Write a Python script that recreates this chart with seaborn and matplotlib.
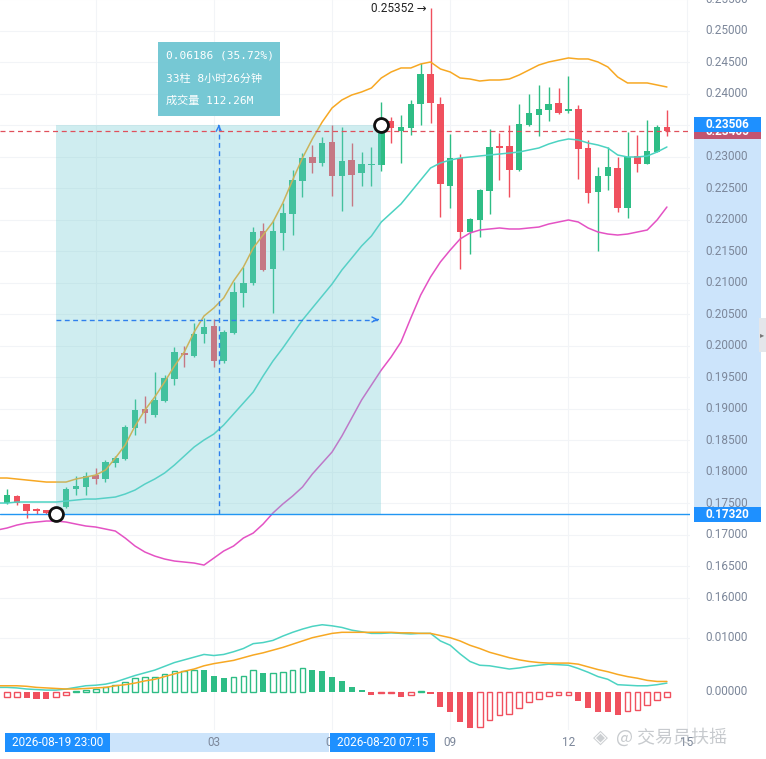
import numpy as np
import pandas as pd
import matplotlib
matplotlib.use("Agg")
import matplotlib.pyplot as plt
import matplotlib.transforms as mtransforms
from matplotlib.patches import Rectangle
import seaborn as sns

# 15 minute candles, 2026-08-19 21:30 .. 2026-08-20 14:30
times = pd.date_range("2026-08-19 21:30", periods=69, freq="15min")

opens = [0.17293, 0.17499, 0.17611, 0.17483, 0.17404, 0.17388, 0.17340, 0.17436, 0.17722, 0.17754,
         0.17944, 0.17880, 0.18134, 0.18198, 0.18690, 0.18991, 0.18896, 0.19119, 0.19468, 0.19881,
         0.19833, 0.20182, 0.20309, 0.19753, 0.20198, 0.20834, 0.20992, 0.21817, 0.21215, 0.21786,
         0.22088, 0.22611, 0.22992, 0.22897, 0.23231, 0.22691, 0.22944, 0.22739, 0.22866, 0.22866,
         0.23564, 0.23405, 0.23453, 0.23834, 0.24310, 0.23834, 0.22532, 0.22976, 0.21802, 0.21993,
         0.22453, 0.23167, 0.23167, 0.22786, 0.23501, 0.23660, 0.23739, 0.23850, 0.23723, 0.23755,
         0.23135, 0.22437, 0.22691, 0.22818, 0.22183, 0.23008, 0.22882, 0.23072, 0.23469]
highs = [0.17547, 0.17722, 0.17627, 0.17490, 0.17420, 0.17395, 0.17395, 0.17754, 0.17928, 0.17992,
         0.18055, 0.18182, 0.18245, 0.18738, 0.19151, 0.19198, 0.19579, 0.19532, 0.19976, 0.19992,
         0.20357, 0.20437, 0.20421, 0.20246, 0.21008, 0.21245, 0.21881, 0.21945, 0.21993, 0.22262,
         0.22786, 0.23056, 0.23183, 0.23310, 0.23501, 0.23469, 0.23215, 0.23072, 0.23151, 0.23866,
         0.23628, 0.23660, 0.23898, 0.24485, 0.25352, 0.23945, 0.23357, 0.23040, 0.22024, 0.22485,
         0.23437, 0.23373, 0.23501, 0.23834, 0.23993, 0.24136, 0.24104, 0.24088, 0.24279, 0.23818,
         0.23262, 0.22834, 0.23151, 0.22992, 0.23389, 0.23341, 0.23580, 0.23501, 0.23739]
lows = [0.17262, 0.17483, 0.17467, 0.17262, 0.17330, 0.17325, 0.17320, 0.17420, 0.17627, 0.17627,
        0.17801, 0.17833, 0.18070, 0.18182, 0.18579, 0.18770, 0.18865, 0.19110, 0.19372, 0.19659,
        0.19825, 0.20040, 0.19659, 0.19722, 0.20190, 0.20611, 0.20960, 0.21183, 0.20516, 0.21516,
        0.21754, 0.22358, 0.22739, 0.22850, 0.22374, 0.22135, 0.22214, 0.22532, 0.22532, 0.22770,
        0.23215, 0.22897, 0.23341, 0.23501, 0.23532, 0.22040, 0.22183, 0.21215, 0.21452, 0.21722,
        0.22088, 0.22627, 0.22358, 0.22770, 0.23485, 0.23325, 0.23564, 0.23676, 0.23692, 0.22643,
        0.22262, 0.21500, 0.22469, 0.22119, 0.22024, 0.22754, 0.22882, 0.23070, 0.23325]
closes = [0.17515, 0.17627, 0.17499, 0.17372, 0.17372, 0.17335, 0.17372, 0.17722, 0.17770, 0.17928,
          0.17880, 0.18150, 0.18214, 0.18706, 0.18975, 0.18928, 0.19135, 0.19484, 0.19897, 0.19849,
          0.20182, 0.20294, 0.19753, 0.20214, 0.20850, 0.20992, 0.21802, 0.21199, 0.21817, 0.22104,
          0.22627, 0.22976, 0.22897, 0.23215, 0.22691, 0.22929, 0.22707, 0.22882, 0.22882, 0.23506,
          0.23453, 0.23469, 0.23834, 0.24310, 0.23850, 0.22564, 0.22976, 0.21802, 0.22008, 0.22469,
          0.23151, 0.23135, 0.22786, 0.23516, 0.23692, 0.23755, 0.23834, 0.23692, 0.23755, 0.23120,
          0.22421, 0.22691, 0.22834, 0.22183, 0.22992, 0.22882, 0.23088, 0.23469, 0.23405]

# Bollinger bands
bb_upper = [0.17897, 0.17897, 0.17881, 0.17865, 0.17849, 0.17833, 0.17833, 0.17833, 0.17881, 0.17912,
            0.17944, 0.18024, 0.18214, 0.18421, 0.18722, 0.18976, 0.19183, 0.19421, 0.19675, 0.19897,
            0.20214, 0.20469, 0.20596, 0.20754, 0.21024, 0.21246, 0.21548, 0.21754, 0.21961, 0.22262,
            0.22628, 0.22977, 0.23279, 0.23548, 0.23771, 0.23898, 0.23977, 0.24025, 0.24088, 0.24247,
            0.24342, 0.24406, 0.24406, 0.24469, 0.24501, 0.24390, 0.24342, 0.24247, 0.24231, 0.24199,
            0.24215, 0.24215, 0.24231, 0.24295, 0.24374, 0.24453, 0.24501, 0.24533, 0.24565, 0.24549,
            0.24549, 0.24501, 0.24422, 0.24263, 0.24168, 0.24168, 0.24168, 0.24136, 0.24104]
bb_middle = [0.17500, 0.17500, 0.17516, 0.17516, 0.17516, 0.17516, 0.17516, 0.17531, 0.17547, 0.17563,
             0.17563, 0.17579, 0.17595, 0.17643, 0.17706, 0.17801, 0.17881, 0.17976, 0.18103, 0.18246,
             0.18389, 0.18500, 0.18595, 0.18738, 0.18913, 0.19087, 0.19262, 0.19516, 0.19754, 0.19960,
             0.20183, 0.20405, 0.20596, 0.20786, 0.20976, 0.21199, 0.21389, 0.21580, 0.21739, 0.21961,
             0.22104, 0.22247, 0.22437, 0.22628, 0.22818, 0.22898, 0.22945, 0.22977, 0.22993, 0.23009,
             0.23025, 0.23040, 0.23056, 0.23072, 0.23104, 0.23136, 0.23199, 0.23247, 0.23279, 0.23263,
             0.23215, 0.23183, 0.23136, 0.23025, 0.22993, 0.22993, 0.23009, 0.23072, 0.23152]
bb_lower = [0.17071, 0.17103, 0.17150, 0.17182, 0.17198, 0.17214, 0.17214, 0.17198, 0.17166, 0.17135,
            0.17119, 0.17087, 0.17055, 0.16944, 0.16817, 0.16722, 0.16658, 0.16611, 0.16579, 0.16563,
            0.16547, 0.16515, 0.16626, 0.16738, 0.16817, 0.16944, 0.17023, 0.17166, 0.17341, 0.17484,
            0.17611, 0.17754, 0.17960, 0.18135, 0.18309, 0.18563, 0.18849, 0.19135, 0.19373, 0.19611,
            0.19818, 0.20056, 0.20437, 0.20802, 0.21088, 0.21326, 0.21516, 0.21691, 0.21786, 0.21834,
            0.21850, 0.21866, 0.21850, 0.21850, 0.21866, 0.21881, 0.21929, 0.21961, 0.21993, 0.21961,
            0.21866, 0.21802, 0.21770, 0.21754, 0.21770, 0.21802, 0.21834, 0.21993, 0.22199]

# MACD
dif = [0.0008, 0.0008, 0.0007, 0.0005, 0.0004, 0.0003, 0.0003, 0.0005, 0.0008, 0.0011,
       0.0012, 0.0014, 0.0018, 0.0024, 0.0030, 0.0035, 0.0040, 0.0047, 0.0054, 0.0059,
       0.0064, 0.0069, 0.0067, 0.0069, 0.0074, 0.0080, 0.0089, 0.0091, 0.0095, 0.0103,
       0.0110, 0.0116, 0.0121, 0.0124, 0.0122, 0.0119, 0.0114, 0.0111, 0.0108, 0.0108,
       0.0109, 0.0108, 0.0107, 0.0108, 0.0108, 0.0094, 0.0086, 0.0070, 0.0056, 0.0049,
       0.0048, 0.0045, 0.0042, 0.0044, 0.0047, 0.0049, 0.0051, 0.0050, 0.0049, 0.0043,
       0.0036, 0.0028, 0.0023, 0.0013, 0.0012, 0.0011, 0.0011, 0.0013, 0.0016]
dea = [0.0011, 0.0011, 0.0011, 0.0010, 0.0008, 0.0007, 0.0006, 0.0005, 0.0005, 0.0006,
       0.0007, 0.0008, 0.0011, 0.0013, 0.0016, 0.0020, 0.0023, 0.0028, 0.0033, 0.0038,
       0.0042, 0.0048, 0.0052, 0.0055, 0.0058, 0.0063, 0.0068, 0.0072, 0.0077, 0.0082,
       0.0088, 0.0094, 0.0100, 0.0104, 0.0108, 0.0110, 0.0110, 0.0110, 0.0110, 0.0110,
       0.0110, 0.0109, 0.0109, 0.0108, 0.0108, 0.0104, 0.0100, 0.0094, 0.0086, 0.0080,
       0.0073, 0.0068, 0.0063, 0.0059, 0.0056, 0.0054, 0.0053, 0.0053, 0.0053, 0.0051,
       0.0046, 0.0041, 0.0037, 0.0032, 0.0028, 0.0025, 0.0021, 0.0019, 0.0019]
macd_hist = [-0.00125, -0.00106, -0.00106, -0.00125, -0.00138, -0.00140, -0.00106, -0.00069, 0.0002, 0.0004,
             0.0005, 0.0009, 0.00124, 0.0018, 0.0025, 0.0027, 0.0028, 0.0032, 0.0038, 0.0038,
             0.0040, 0.00398, 0.0029, 0.0025, 0.0028, 0.0030, 0.0040, 0.0035, 0.00352, 0.0036,
             0.0040, 0.0043, 0.0040, 0.0038, 0.0027, 0.0020, 0.0009, 0.0003, -0.0007, -0.0003,
             -0.0003, -0.0009, -0.0007, 0.0002, -0.0004, -0.0028, -0.0037, -0.0057, -0.0067, -0.0065,
             -0.0052, -0.0044, -0.0042, -0.0031, -0.0019, -0.0014, -0.0008, -0.0007, -0.0007, -0.0017,
             -0.0031, -0.0037, -0.00372, -0.0044, -0.0036, -0.0033, -0.0025, -0.0015, -0.0010]

price_ticks = np.arange(0.160, 0.2551, 0.005)
hour_ticks = pd.date_range("2026-08-20 00:00", "2026-08-20 15:00", freq="3h")
start_time = pd.Timestamp("2026-08-19 23:00")
end_time = pd.Timestamp("2026-08-20 07:15")
info_lines = ["0.06186 (35.72%)", "33柱 8小时26分钟", "成交量 112.26M"]

GREEN = "#2ebd85"
RED = "#f0505e"
C_UP = "#f7a823"
C_MID = "#4cd3c2"
C_LOW = "#e452c4"
BLUE = "#1e90ff"
AXC = "#7c879a"
GRID = "#f2f4f7"

sns.set_style("white")
plt.rcParams["font.family"] = ["Roboto", "DejaVu Sans"]

W, H = 766, 759
fig = plt.figure(figsize=(W / 100, H / 100), dpi=100)


def fx(px):
    return px / W


def fy(py):
    return 1 - py / H


ax = fig.add_axes([0, fy(612), fx(690), 612 / H])
axm = fig.add_axes([0, fy(730), fx(690), (730 - 612) / H])
for a in (ax, axm):
    a.set_xlim(0.2893, 70.343)
    for s in a.spines.values():
        s.set_visible(False)
    a.set_xticks([])
    a.set_yticks([])
ax.set_ylim(0.15770, 0.25485)
axm.set_ylim(-0.00709, 0.01476)

o = np.array(opens); h = np.array(highs); l = np.array(lows); c = np.array(closes)
k = np.arange(len(times))
t2k = lambda t: (t - times[0]) / pd.Timedelta("15min")
k_hours = np.array([t2k(t) for t in hour_ticks])
k0, k1 = t2k(start_time), t2k(end_time)
p0, p1 = l[int(k0)], c[int(k1)]

# grid
for p in price_ticks:
    ax.axhline(p, color=GRID, lw=0.8, zorder=0)
for kk in k_hours:
    ax.axvline(kk, color=GRID, lw=0.8, zorder=0)
    axm.axvline(kk, color=GRID, lw=0.8, zorder=0)
axm.axhline(0.01, color=GRID, lw=0.8, zorder=0)

# candles
up = c >= o
cols = np.where(up, GREEN, RED)
ax.vlines(k, l, h, colors=cols, lw=1, zorder=2)
ax.bar(k, np.maximum(np.abs(c - o), 0.00015), bottom=np.minimum(o, c), width=0.66,
       color=cols, linewidth=0, zorder=3)

# Bollinger bands
df = pd.DataFrame({"k": k, "up": bb_upper, "mid": bb_middle, "low": bb_lower,
                   "dif": dif, "dea": dea, "hist": macd_hist})
sns.lineplot(data=df, x="k", y="up", ax=ax, color=C_UP, lw=1.1, zorder=4)
sns.lineplot(data=df, x="k", y="mid", ax=ax, color=C_MID, lw=1.1, zorder=4)
sns.lineplot(data=df, x="k", y="low", ax=ax, color=C_LOW, lw=1.1, zorder=4)

# measurement overlay
ax.add_patch(Rectangle((k0, p0), k1 - k0, p1 - p0, facecolor="#70cbd2", alpha=0.33,
                       linewidth=0, zorder=5))
km, pm = (k0 + k1) / 2, (p0 + p1) / 2
ax.plot([km, km], [p0, p1], color="#2f80ed", lw=1, ls=(0, (3.5, 2.5)), zorder=6)
ax.plot([k0, k1], [pm, pm], color="#2f80ed", lw=1, ls=(0, (3.5, 2.5)), zorder=6)
ax.annotate("", xy=(km, p1), xytext=(km, p1 - 0.0006),
            arrowprops=dict(arrowstyle="->", color="#2f80ed", lw=1, mutation_scale=9), zorder=6)
ax.annotate("", xy=(k1, pm), xytext=(k1 - 0.6, pm),
            arrowprops=dict(arrowstyle="->", color="#2f80ed", lw=1, mutation_scale=9), zorder=6)

ax.axhline(p0, color="#2196f3", lw=1, zorder=6)
ax.axhline(c[-1], color="#e0505c", lw=0.9, ls=(0, (4, 3)), zorder=6)
ax.scatter([k0, k1], [p0, p1], s=100, facecolors="white", edgecolors="#111111",
           linewidths=2, zorder=8)

ih = int(np.argmax(h))
ax.annotate(f"{h[ih]:.5f} →", xy=(ih, h[ih]), xytext=(-2.5, 0), textcoords="offset points",
            ha="right", va="center", fontsize=8.5, color="#222222", zorder=9)

# info box
fig.patches.append(Rectangle((fx(158), fy(116)), fx(122), 74 / H, transform=fig.transFigure,
                             facecolor="#76c8d4", edgecolor="none", zorder=10))
for j, line in enumerate(info_lines):
    fig.text(fx(166), fy(56 + 22.5 * j), line, color="white", fontsize=8, va="center",
             family=["DejaVu Sans Mono", "Noto Sans CJK SC"], zorder=11)

# right price axis
ytr = ax.get_yaxis_transform()
ax.add_patch(Rectangle((694 / 690, p0), 67 / 690, p1 - p0, transform=ytr, facecolor="#cce4fb",
                       linewidth=0, clip_on=False, zorder=1))
for p in price_ticks:
    ax.text(727 / 690, p, f"{p:.5f}", transform=ytr, ha="center", va="center",
            fontsize=8.5, color=AXC, clip_on=False, zorder=2)
hbox = 15 / 6299
for z, (p, fc) in enumerate([(c[-1], "#c25470"), (p1, BLUE), (p0, BLUE)]):
    ax.add_patch(Rectangle((694 / 690, p - hbox / 2), 67 / 690, hbox, transform=ytr,
                           facecolor=fc, linewidth=0, clip_on=False, zorder=10 + 2 * z))
    ax.text(727 / 690, p, f"{p:.5f}", transform=ytr, ha="center", va="center",
            fontsize=8.5, color="white", fontweight="bold", clip_on=False, zorder=11 + 2 * z)

# MACD panel
sns.lineplot(data=df, x="k", y="dif", ax=axm, color=C_MID, lw=1.1, zorder=4)
sns.lineplot(data=df, x="k", y="dea", ax=axm, color=C_UP, lw=1.1, zorder=4)
hv = np.array(macd_hist)
prev = np.r_[np.inf, hv[:-1]]
filled = hv < prev
hcols = np.where(hv >= 0, GREEN, RED)
axm.bar(k[filled], hv[filled], width=0.62, color=hcols[filled], linewidth=0, zorder=3)
axm.bar(k[~filled], hv[~filled], width=0.58, facecolor="white", edgecolor=hcols[~filled],
        linewidth=1, zorder=3)
mtr = axm.get_yaxis_transform()
for v in (0.0, 0.01):
    axm.text(727 / 690, v, f"{v:.5f}", transform=mtr, ha="center", va="center",
             fontsize=8.5, color=AXC, clip_on=False)

# time axis strip
btr = mtransforms.blended_transform_factory(axm.transData, fig.transFigure)
bw = 105 / 9.85
axm.add_patch(Rectangle((k0 + bw / 2, fy(752)), (k1 - k0) - bw, 19 / H, transform=btr,
                        facecolor="#cce4fb", linewidth=0, clip_on=False, zorder=1))
for kk, t in zip(k_hours, hour_ticks):
    axm.text(kk, fy(743), t.strftime("%H"), transform=btr, ha="center", va="center",
             fontsize=8.5, color=AXC, clip_on=False, zorder=2)
for kk, t in [(k0, start_time), (k1, end_time)]:
    axm.add_patch(Rectangle((kk - bw / 2 + 0.1, fy(752)), bw, 19 / H, transform=btr,
                            facecolor=BLUE, linewidth=0, clip_on=False, zorder=10))
    axm.text(kk + 0.1, fy(742.5), t.strftime("%Y-%m-%d %H:%M"), transform=btr, ha="center",
             va="center", fontsize=8.5, color="white", clip_on=False, zorder=11)

# side tab and watermark
fig.patches.append(Rectangle((fx(759), fy(352)), fx(7), 34 / H, transform=fig.transFigure,
                             facecolor="#e4e6ea", edgecolor="none"))
fig.text(fx(762.5), fy(335), "▸", fontsize=6, color="#777777", ha="center", va="center",
         family=["DejaVu Sans"])
fig.text(fx(600), fy(737), "◈", fontsize=14, color="#9aa0a6", alpha=0.5, ha="center",
         va="center", family=["DejaVu Sans"])
fig.text(fx(616), fy(737), "@ 交易员扶摇", fontsize=13, color="#9aa0a6", alpha=0.55,
         va="center", family=["Noto Sans CJK SC", "DejaVu Sans"])

fig.savefig("out.png", dpi=100, facecolor="white")
